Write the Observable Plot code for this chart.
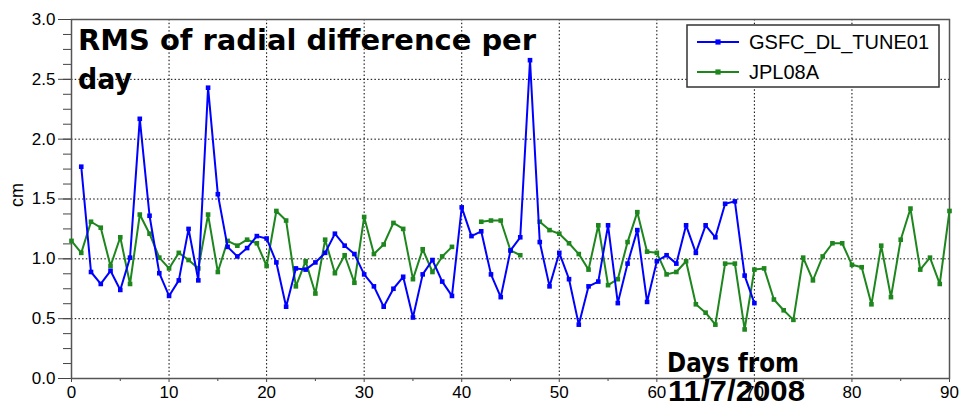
<!DOCTYPE html>
<html>
<head>
<meta charset="utf-8">
<script src="https://cdn.jsdelivr.net/npm/d3@7"></script>
<script src="https://cdn.jsdelivr.net/npm/@observablehq/plot@0.6"></script>
<style>
  html, body { margin: 0; padding: 0; background: #fff; }
  #chart { width: 961px; height: 406px; overflow: hidden; }
</style>
</head>
<body>
<div id="chart"></div>
<script>
// ---- Data ----
const gsfcDays = d3.range(1, 71);
const gsfcValues = [
  1.77, 0.89, 0.79, 0.90, 0.74, 1.01, 2.17, 1.36, 0.88, 0.69,
  0.82, 1.25, 0.82, 2.43, 1.54, 1.10, 1.02, 1.09, 1.19, 1.17,
  0.97, 0.60, 0.92, 0.91, 0.97, 1.05, 1.21, 1.11, 1.04, 0.87,
  0.77, 0.60, 0.75, 0.85, 0.51, 0.87, 0.99, 0.81, 0.69, 1.43,
  1.19, 1.23, 0.87, 0.68, 1.07, 1.18, 2.66, 1.14, 0.77, 1.05,
  0.83, 0.45, 0.77, 0.81, 1.28, 0.63, 0.96, 1.24, 0.64, 0.98,
  1.03, 0.96, 1.28, 1.05, 1.28, 1.18, 1.46, 1.48, 0.86, 0.63
];
const jplDays = d3.range(0, 91);
const jplValues = [
  1.15, 1.05, 1.31, 1.26, 0.94, 1.18, 0.79, 1.37, 1.21, 1.01,
  0.92, 1.05, 0.99, 0.92, 1.37, 0.89, 1.15, 1.11, 1.16, 1.13,
  0.94, 1.40, 1.32, 0.77, 0.98, 0.71, 1.16, 0.88, 1.03, 0.80,
  1.35, 1.04, 1.12, 1.30, 1.25, 0.83, 1.08, 0.89, 1.02, 1.10,
  null, null, 1.31, 1.32, 1.32, 1.07, 1.03, null, 1.31, 1.24,
  1.21, 1.13, 1.04, 0.91, 1.28, 0.78, 0.83, 1.14, 1.39, 1.06,
  1.05, 0.87, 0.89, 0.98, 0.62, 0.55, 0.45, 0.96, 0.96, 0.41,
  0.91, 0.92, 0.66, 0.57, 0.49, 1.01, 0.82, 1.02, 1.13, 1.13,
  0.95, 0.93, 0.62, 1.11, 0.68, 1.16, 1.42, 0.91, 1.01, 0.79,
  1.40
];
const seriesNames = ["GSFC_DL_TUNE01", "JPL08A"];
const seriesColors = ["#0000ff", "#1d861d"];
const xTicks = [0, 10, 20, 30, 40, 50, 60, 70, 80, 90];
const xMinorTicks = [5, 15, 25, 35, 45, 55, 65, 75, 85];
const xGrid = [10, 20, 30, 40, 50, 60, 70, 80];
const yTicks = [0, 0.5, 1.0, 1.5, 2.0, 2.5, 3.0];
const yMinorTicks = d3.range(0, 3.0001, 0.125);
const yGrid = [0.5, 1.0, 1.5, 2.0, 2.5];
const titleLines = ["RMS of radial difference per", "day"];
const xLabelLines = ["Days from", "11/7/2008"];
const yLabel = "cm";

const gsfc = gsfcDays.map((d, i) => ({day: d, value: gsfcValues[i]}));
const jpl = jplDays.map((d, i) => ({day: d, value: jplValues[i]}));

const chart = Plot.plot({
  width: 961,
  height: 406,
  marginLeft: 71,
  marginRight: 12,
  marginTop: 19,
  marginBottom: 28,
  x: {domain: [0, 90]},
  y: {domain: [0, 3]},
  style: {fontFamily: "'Liberation Sans', Arial, sans-serif", fontSize: "17px", background: "#fff", color: "#000"},
  marks: [
    Plot.gridX(xGrid, {stroke: "#000", strokeOpacity: 1, strokeDasharray: "1.5,2.2", strokeWidth: 1}),
    Plot.gridY(yGrid, {stroke: "#000", strokeOpacity: 1, strokeDasharray: "1.5,2.2", strokeWidth: 1}),
    Plot.axisX(xMinorTicks, {tickSize: 3, label: null, tickFormat: () => "", stroke: "#444"}),
    Plot.axisX(xTicks, {tickSize: 4, tickPadding: 3, label: null, tickFormat: d => String(d), fontSize: 17, stroke: "#444"}),
    Plot.axisY(yMinorTicks, {tickSize: 8, label: null, tickFormat: () => "", stroke: "#444"}),
    Plot.axisY(yTicks, {tickSize: 13, tickPadding: 3, label: null, tickFormat: d => d.toFixed(1), fontSize: 17, stroke: "#444"}),
    Plot.frame({stroke: "#555", strokeWidth: 1.5}),
    Plot.line(jpl, {x: "day", y: "value", stroke: seriesColors[1], strokeWidth: 2}),
    Plot.dot(jpl, {x: "day", y: "value", symbol: "square", r: 2.6, fill: seriesColors[1], stroke: "none"}),
    Plot.line(gsfc, {x: "day", y: "value", stroke: seriesColors[0], strokeWidth: 2}),
    Plot.dot(gsfc, {x: "day", y: "value", symbol: "square", r: 2.6, fill: seriesColors[0], stroke: "none"})
  ]
});
document.getElementById("chart").appendChild(chart);

const svg = d3.select(chart);
const overlay = svg.append("g").attr("text-anchor", "start");

// Title
const tfont = "'DejaVu Sans', sans-serif";
overlay.append("text").attr("x", 78).attr("y", 50).attr("font-family", tfont).attr("font-weight", "bold")
  .attr("font-size", 28).attr("fill", "#000").attr("textLength", 458).attr("lengthAdjust", "spacingAndGlyphs").text(titleLines[0]);
overlay.append("text").attr("x", 78).attr("y", 89).attr("font-family", tfont).attr("font-weight", "bold")
  .attr("font-size", 28).attr("fill", "#000").attr("textLength", 54).attr("lengthAdjust", "spacingAndGlyphs").text(titleLines[1]);

// X label
overlay.append("text").attr("x", 667).attr("y", 372).attr("font-family", tfont).attr("font-weight", "bold")
  .attr("font-size", 26).attr("fill", "#000").attr("textLength", 132).attr("lengthAdjust", "spacingAndGlyphs").text(xLabelLines[0]);
overlay.append("text").attr("x", 668).attr("y", 401).attr("font-family", "'Liberation Sans', Arial, sans-serif").attr("font-weight", "bold")
  .attr("font-size", 30).attr("fill", "#000").attr("textLength", 137).attr("lengthAdjust", "spacingAndGlyphs").text(xLabelLines[1]);

// Y label
overlay.append("text").attr("transform", "translate(23,195) rotate(-90)").attr("text-anchor", "middle")
  .attr("font-family", "'Liberation Sans', Arial, sans-serif").attr("font-size", 18).attr("fill", "#000").text(yLabel);

// Legend
const lg = overlay.append("g");
lg.append("rect").attr("x", 687).attr("y", 25).attr("width", 252).attr("height", 62)
  .attr("fill", "#fff").attr("stroke", "#333").attr("stroke-width", 1.5);
[42, 72].forEach((yy, i) => {
  lg.append("line").attr("x1", 697).attr("x2", 739).attr("y1", yy).attr("y2", yy)
    .attr("stroke", seriesColors[i]).attr("stroke-width", 2);
  lg.append("rect").attr("x", 718 - 2.6).attr("y", yy - 2.6).attr("width", 5.2).attr("height", 5.2).attr("fill", seriesColors[i]);
  lg.append("text").attr("x", 749).attr("y", yy + 7).attr("text-anchor", "start").attr("font-family", "'Liberation Sans', Arial, sans-serif")
    .attr("font-size", 20).attr("fill", "#000").text(seriesNames[i]);
});
</script>
</body>
</html>
